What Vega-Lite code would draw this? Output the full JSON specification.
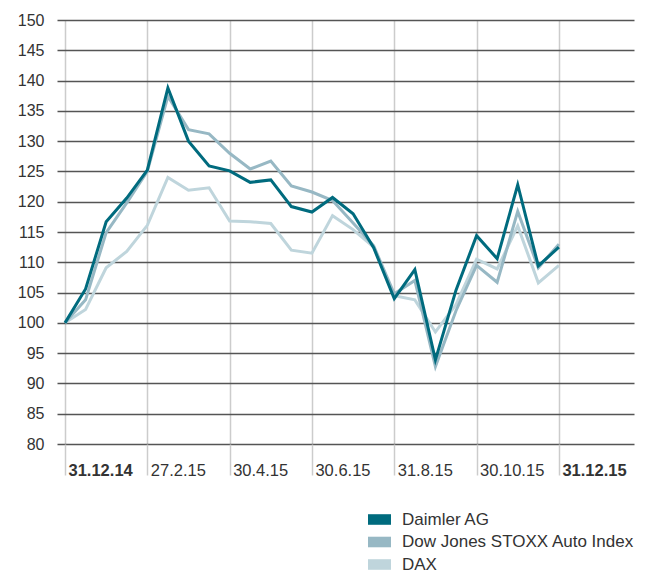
{
  "$schema": "https://vega.github.io/schema/vega-lite/v6.json",
  "autosize": {"type": "none"},
  "padding": {"left": 57, "top": 20, "right": 14, "bottom": 127},
  "width": 577,
  "height": 424,
  "config": {
    "view": {"stroke": null},
    "font": "Liberation Sans",
    "axis": {"labelFont": "Liberation Sans", "labelColor": "#333333", "labelFontSize": 16}
  },
  "data": {
    "values": [
      {"i":0,"s":"DAX","v":100},{"i":1,"s":"DAX","v":102.2},{"i":2,"s":"DAX","v":109.1},{"i":3,"s":"DAX","v":111.8},{"i":4,"s":"DAX","v":116.1},{"i":5,"s":"DAX","v":124.0},{"i":6,"s":"DAX","v":121.9},{"i":7,"s":"DAX","v":122.3},{"i":8,"s":"DAX","v":116.8},{"i":9,"s":"DAX","v":116.7},{"i":10,"s":"DAX","v":116.4},{"i":11,"s":"DAX","v":112.0},{"i":12,"s":"DAX","v":111.5},{"i":13,"s":"DAX","v":117.7},{"i":14,"s":"DAX","v":115.4},{"i":15,"s":"DAX","v":112.5},{"i":16,"s":"DAX","v":104.5},{"i":17,"s":"DAX","v":103.8},{"i":18,"s":"DAX","v":98.5},{"i":19,"s":"DAX","v":103.0},{"i":20,"s":"DAX","v":110.5},{"i":21,"s":"DAX","v":108.9},{"i":22,"s":"DAX","v":116.0},{"i":23,"s":"DAX","v":106.6},{"i":24,"s":"DAX","v":109.5},
      {"i":0,"s":"Dow Jones STOXX Auto Index","v":100},{"i":1,"s":"Dow Jones STOXX Auto Index","v":103.8},{"i":2,"s":"Dow Jones STOXX Auto Index","v":114.9},{"i":3,"s":"Dow Jones STOXX Auto Index","v":119.8},{"i":4,"s":"Dow Jones STOXX Auto Index","v":125.0},{"i":5,"s":"Dow Jones STOXX Auto Index","v":137.4},{"i":6,"s":"Dow Jones STOXX Auto Index","v":131.9},{"i":7,"s":"Dow Jones STOXX Auto Index","v":131.2},{"i":8,"s":"Dow Jones STOXX Auto Index","v":128.0},{"i":9,"s":"Dow Jones STOXX Auto Index","v":125.4},{"i":10,"s":"Dow Jones STOXX Auto Index","v":126.7},{"i":11,"s":"Dow Jones STOXX Auto Index","v":122.6},{"i":12,"s":"Dow Jones STOXX Auto Index","v":121.6},{"i":13,"s":"Dow Jones STOXX Auto Index","v":120.2},{"i":14,"s":"Dow Jones STOXX Auto Index","v":116.5},{"i":15,"s":"Dow Jones STOXX Auto Index","v":112.7},{"i":16,"s":"Dow Jones STOXX Auto Index","v":104.8},{"i":17,"s":"Dow Jones STOXX Auto Index","v":107.0},{"i":18,"s":"Dow Jones STOXX Auto Index","v":92.8},{"i":19,"s":"Dow Jones STOXX Auto Index","v":102.0},{"i":20,"s":"Dow Jones STOXX Auto Index","v":109.5},{"i":21,"s":"Dow Jones STOXX Auto Index","v":106.7},{"i":22,"s":"Dow Jones STOXX Auto Index","v":118.4},{"i":23,"s":"Dow Jones STOXX Auto Index","v":109.1},{"i":24,"s":"Dow Jones STOXX Auto Index","v":113.0},
      {"i":0,"s":"Daimler AG","v":100},{"i":1,"s":"Daimler AG","v":105.6},{"i":2,"s":"Daimler AG","v":116.7},{"i":3,"s":"Daimler AG","v":120.6},{"i":4,"s":"Daimler AG","v":125.2},{"i":5,"s":"Daimler AG","v":138.8},{"i":6,"s":"Daimler AG","v":130.0},{"i":7,"s":"Daimler AG","v":125.9},{"i":8,"s":"Daimler AG","v":125.1},{"i":9,"s":"Daimler AG","v":123.2},{"i":10,"s":"Daimler AG","v":123.6},{"i":11,"s":"Daimler AG","v":119.2},{"i":12,"s":"Daimler AG","v":118.3},{"i":13,"s":"Daimler AG","v":120.7},{"i":14,"s":"Daimler AG","v":118.0},{"i":15,"s":"Daimler AG","v":112.4},{"i":16,"s":"Daimler AG","v":104.0},{"i":17,"s":"Daimler AG","v":108.8},{"i":18,"s":"Daimler AG","v":93.9},{"i":19,"s":"Daimler AG","v":105.4},{"i":20,"s":"Daimler AG","v":114.4},{"i":21,"s":"Daimler AG","v":110.6},{"i":22,"s":"Daimler AG","v":122.8},{"i":23,"s":"Daimler AG","v":109.4},{"i":24,"s":"Daimler AG","v":112.5}
    ]
  },
  "encoding": {
    "x": {
      "field": "i", "type": "quantitative",
      "scale": {"domain": [-0.389, 27.65], "nice": false, "zero": false},
      "axis": {
        "title": null,
        "values": [0, 4, 8, 12, 16, 20, 24],
        "labelExpr": "['31.12.14','27.2.15','30.4.15','30.6.15','31.8.15','30.10.15','31.12.15'][datum.value/4]",
        "labelFontWeight": {"condition": {"test": "datum.value == 0 || datum.value == 24", "value": "bold"}, "value": "normal"},
        "labelFontSize": 16.5,
        "labelAlign": "left",
        "labelBaseline": "top",
        "labelOffset": 3,
        "labelPadding": -13,
        "labelFlush": false,
        "labelOverlap": false,
        "labelBound": false,
        "domain": false,
        "ticks": true,
        "tickSize": 31,
        "tickColor": "#cccccc",
        "tickWidth": 1.5,
        "grid": true,
        "gridColor": "#cccccc",
        "gridWidth": 1.5
      }
    },
    "y": {
      "field": "v", "type": "quantitative",
      "scale": {"domain": [80, 150], "nice": false, "zero": false},
      "axis": {
        "title": null,
        "values": [80, 85, 90, 95, 100, 105, 110, 115, 120, 125, 130, 135, 140, 145, 150],
        "domain": false,
        "ticks": false,
        "labelPadding": 13,
        "grid": true,
        "gridColor": "#555555",
        "gridWidth": 1.5
      }
    },
    "color": {
      "field": "s", "type": "nominal",
      "scale": {"domain": ["Daimler AG", "Dow Jones STOXX Auto Index", "DAX"], "range": ["#006b7e", "#97b8c4", "#bfd5dc"]},
      "legend": {
        "title": null,
        "orient": "none",
        "legendX": 311,
        "legendY": 488,
        "symbolType": "M-1,-0.46L1,-0.46L1,0.46L-1,0.46Z",
        "symbolSize": 529,
        "symbolStrokeWidth": 0,
        "labelFont": "Liberation Sans",
        "labelFontSize": 17,
        "labelColor": "#333333",
        "labelOffset": 11,
        "labelLimit": 0,
        "rowPadding": 2.5,
        "encode": {
          "symbols": {"update": {"fill": {"scale": "color", "field": "value"}, "stroke": {"value": "transparent"}, "opacity": {"value": 1}}}
        }
      }
    }
  },
  "layer": [
    {"transform": [{"filter": "datum.s == 'DAX'"}], "mark": {"type": "line", "strokeWidth": 3}},
    {"transform": [{"filter": "datum.s == 'Dow Jones STOXX Auto Index'"}], "mark": {"type": "line", "strokeWidth": 3}},
    {"transform": [{"filter": "datum.s == 'Daimler AG'"}], "mark": {"type": "line", "strokeWidth": 3}}
  ]
}
